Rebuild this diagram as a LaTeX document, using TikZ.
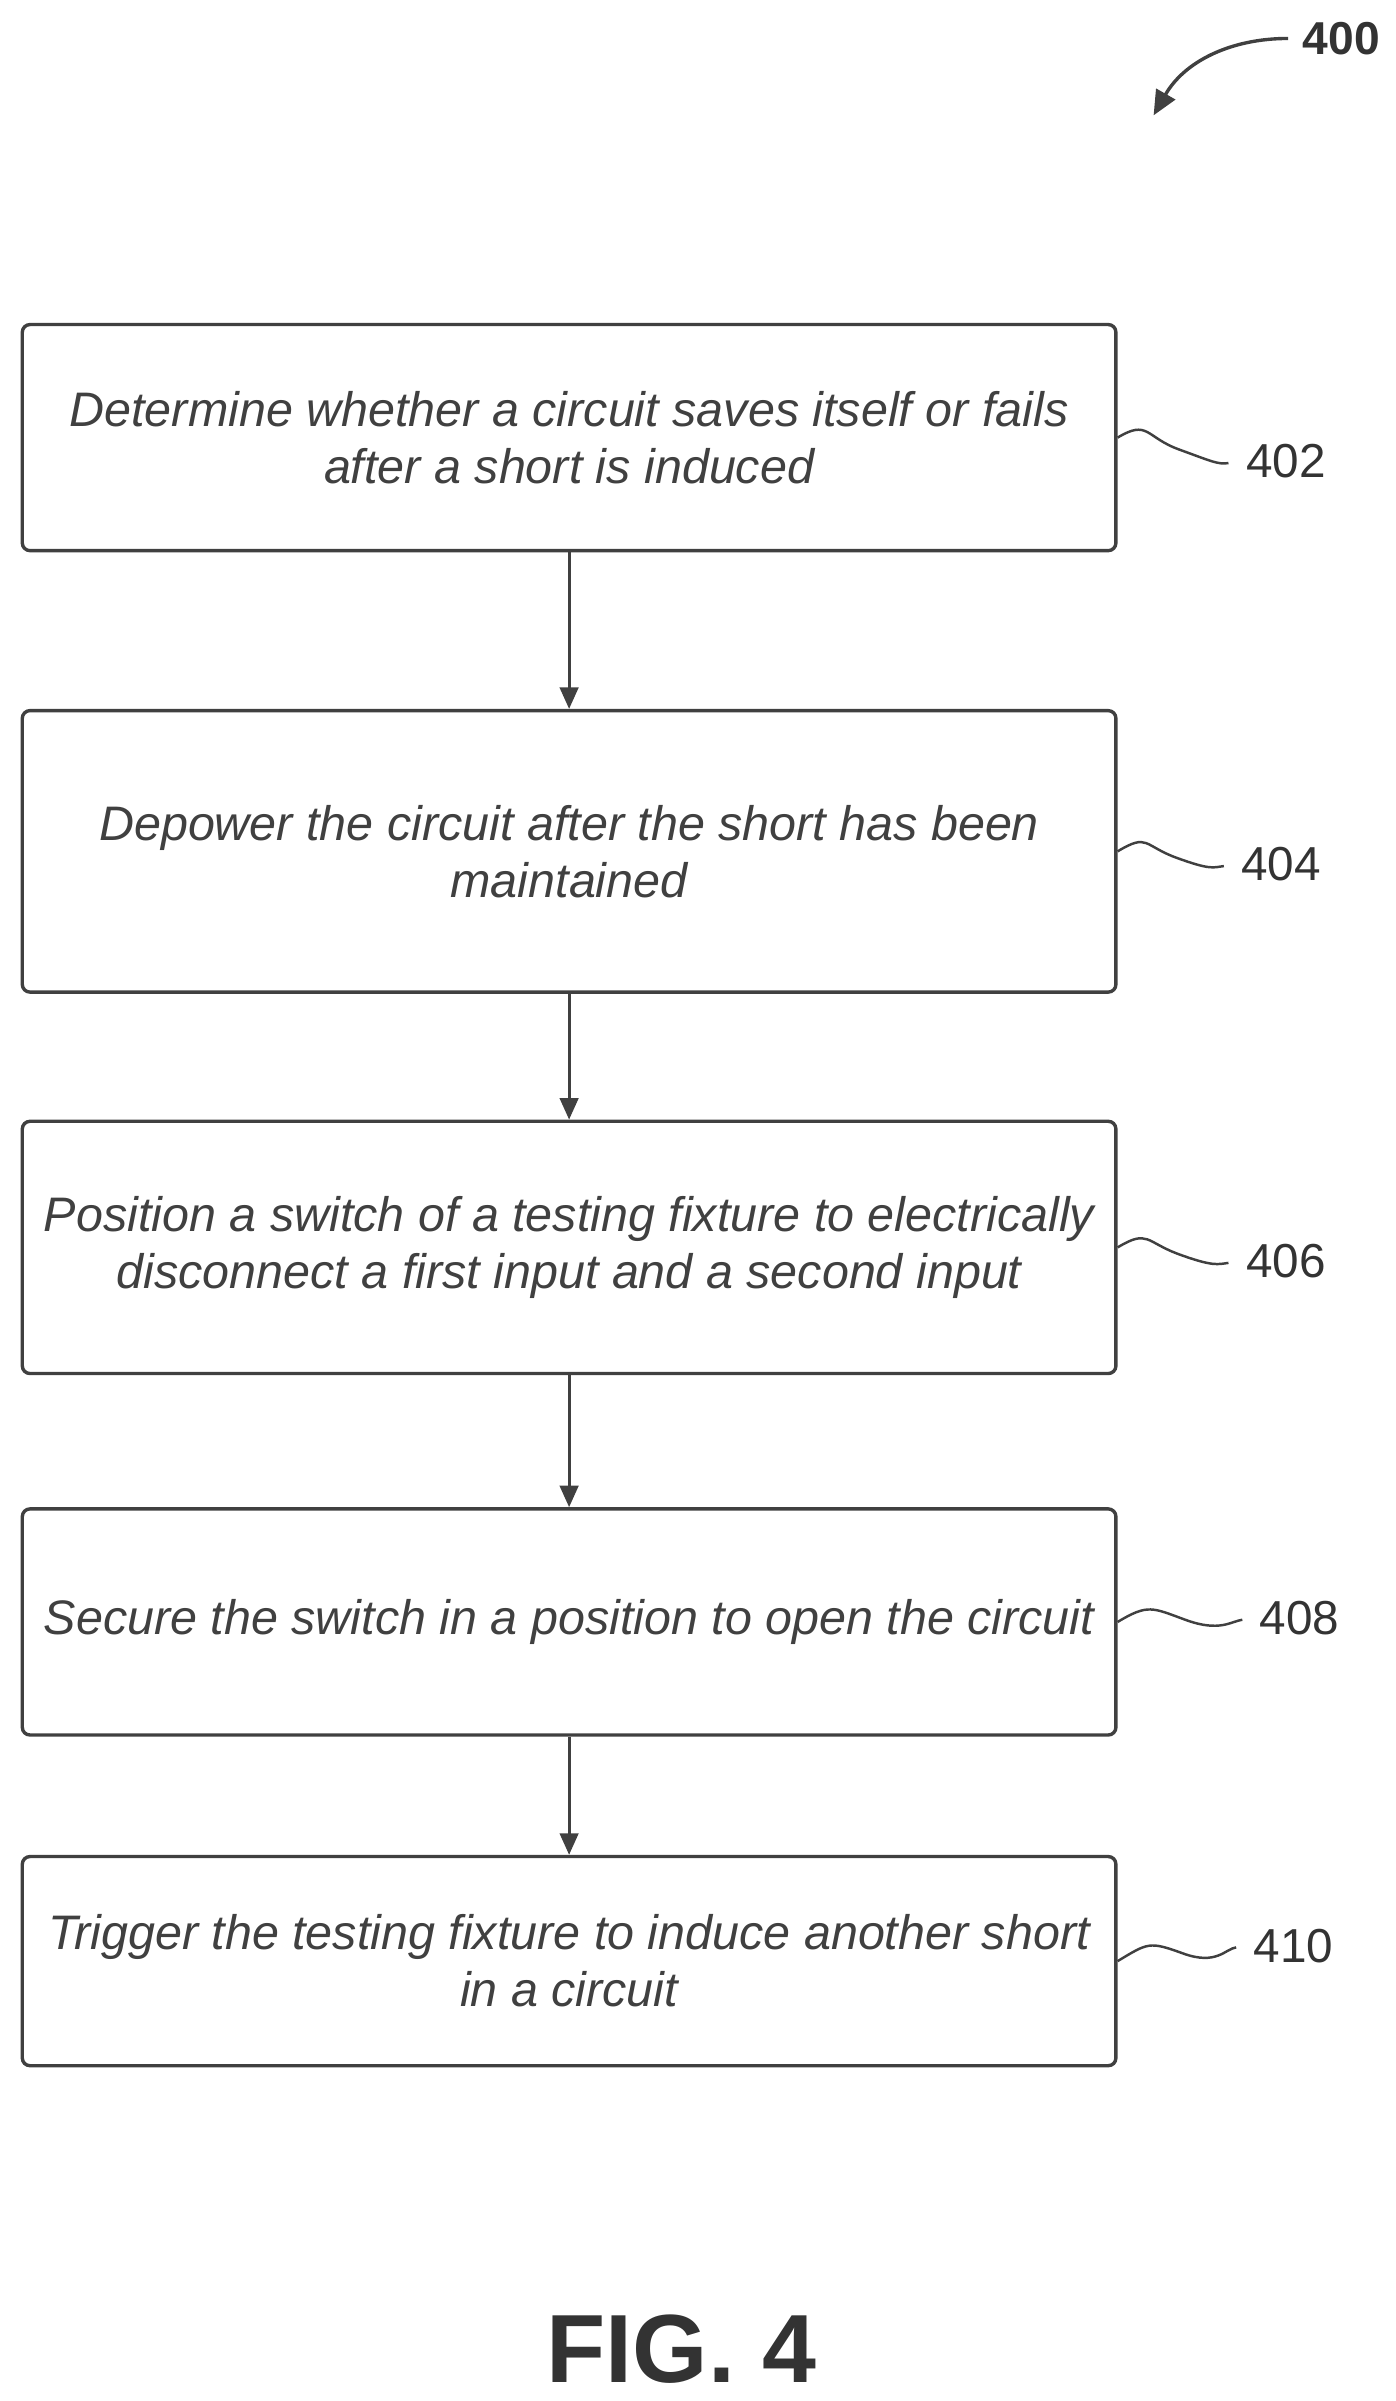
\documentclass[tikz,border=0pt]{standalone}
\usepackage{fontspec}
\setmainfont{Liberation Sans}
\usetikzlibrary{arrows.meta,calc}
\begin{document}
\begin{tikzpicture}[x=1pt,y=-1pt]
        \tikzstyle{stepbox} = [draw=black!75, line width=2.2pt, rounded corners=5pt, minimum width=711pt, align=center, text=black!75, font=\itshape\fontsize{31.5}{37}\selectfont, inner sep=0pt];
        \tikzstyle{flow} = [draw=black!75, line width=2pt, -{Triangle[length=14pt,width=12pt]}];
        \tikzstyle{ref} = [font=\fontsize{31}{34}\selectfont, text=black!80];
        \tikzstyle{squig} = [draw=black!75, line width=1.6pt, shorten >=8pt];

        \useasboundingbox (0,0) rectangle (907,1561);

        \node [stepbox, minimum height=147pt] (s402) at (370,284.5) {Determine whether a circuit saves itself or fails\\after a short is induced};
        \node [stepbox, minimum height=183pt] (s404) at (370,553.5) {Depower the circuit after the short has been\\maintained};
        \node [stepbox, minimum height=164pt] (s406) at (370,811) {Position a switch of a testing fixture to electrically\\disconnect a first input and a second input};
        \node [stepbox, minimum height=147pt] (s408) at (370,1054.5) {Secure the switch in a position to open the circuit};
        \node [stepbox, minimum height=136pt] (s410) at (370,1275) {Trigger the testing fixture to induce another short\\in a circuit};

        % flow arrows
        \draw [flow] (s402) -- (s404);
        \draw [flow] (s404) -- (s406);
        \draw [flow] (s406) -- (s408);
        \draw [flow] (s408) -- (s410);

        % reference numerals
        \node [ref] (n402) at (836,300) {402};
        \node [ref] (n404) at (833,562) {404};
        \node [ref] (n406) at (836,820) {406};
        \node [ref] (n408) at (845,1052) {408};
        \node [ref] (n410) at (841,1265) {410};
        \foreach \n in {402,404,406,408,410} {
            \draw [squig] (s\n.east) .. controls +(20,-12) and +(-22,-8) .. ($(s\n.east)!0.5!(n\n.west)$) .. controls +(22,8) and +(-15,2) .. (n\n.west);
        }

        % figure number
        \node [font=\bfseries\fontsize{30}{34}\selectfont, text=black!80] (n400) at (872,25) {400};
        \draw [line width=2.2pt, black!75, shorten <=6pt, -{Triangle[length=16pt,width=14pt]}] (n400.west) .. controls (800,25) and (770,40) .. (750,75);
        \node [font=\bfseries\fontsize{63}{68}\selectfont, text=black!80] (fig) at (443,1527) {FIG. 4};
\end{tikzpicture}
\end{document}
